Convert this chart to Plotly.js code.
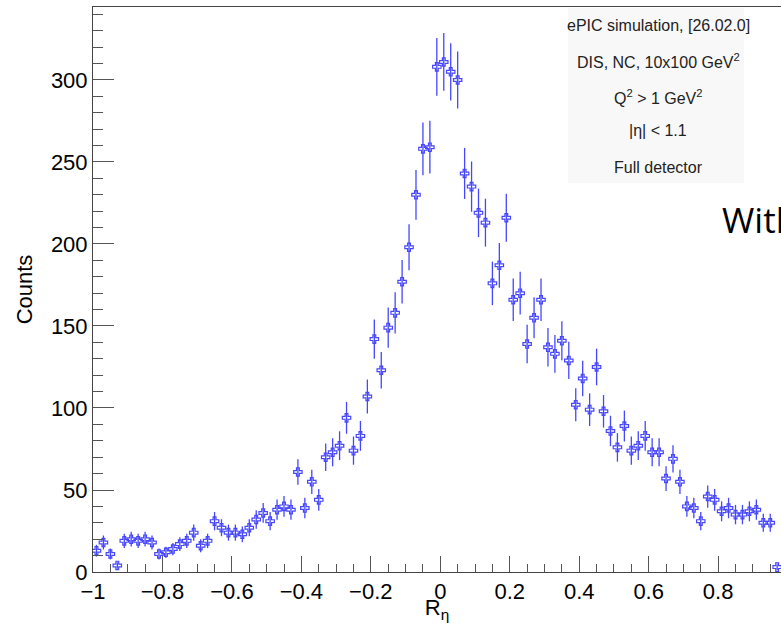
<!DOCTYPE html>
<html>
<head>
<meta charset="utf-8">
<script src="https://cdn.plot.ly/plotly-3.0.1.min.js"></script>
<style>
  html, body { margin: 0; padding: 0; background: #ffffff; }
  #chart { width: 781px; height: 623px; }
</style>
</head>
<body>
<div id="chart"></div>
<script>
// Histogram definition: R_eta, 100 bins from -1 to 1 (visible part up to ~0.98)
const binLow = -1;
const binWidth = 0.02;

// Counts per bin, bins centred at -0.99, -0.97, ..., 0.97
const counts = [
  13, 18, 11, 4, 19, 20, 19, 20, 18, 11,
  12, 14, 17, 19, 24, 16, 19, 31, 27, 24,
  24, 23, 27, 32, 36, 31, 38, 40, 38, 61,
  39, 55, 44, 70, 73, 77, 94, 74, 83, 107,
  142, 123, 149, 158, 177, 198, 230, 258, 259, 308,
  311, 305, 300, 243, 235, 219, 213, 176, 187, 216,
  166, 170, 139, 155, 166, 137, 133, 141, 129, 102,
  118, 99, 125, 98, 86, 76, 89, 74, 77, 83,
  73, 73, 57, 69, 55, 40, 39, 31, 46, 44,
  37, 39, 35, 35, 37, 38, 30, 30, 3
];

const infoLines = [
  "ePIC simulation, [26.02.0]",
  "DIS, NC, 10x100 GeV<sup>2</sup>",
  "Q<sup>2</sup> > 1 GeV<sup>2</sup>",
  "|η| < 1.1",
  "Full detector"
];
const sideText = "With";
const xTitle = "R<sub>η</sub>";
const yTitle = "Counts";

// bin centres and Poisson errors
const centers = counts.map((_, i) => binLow + binWidth * (i + 0.5));
const errors = counts.map(c => Math.sqrt(c));

// layout geometry (pixels)
const W = 781, H = 623;
const mL = 93, mR = 0, mT = 7, mB = 51;
const plotW = W - mL - mR, plotH = H - mT - mB;
const px = x => (x - mL) / plotW;          // pixel x -> paper x
const py = y => (H - mB - y) / plotH;      // pixel y -> paper y

const blue = "rgb(70,70,255)";
const font = "Liberation Sans, Arial, Helvetica, sans-serif";

const trace = {
  type: "scatter",
  mode: "markers",
  x: centers,
  y: counts,
  marker: { symbol: "cross-open", size: 7, color: blue, line: { color: blue, width: 1.2 } },
  error_y: { type: "data", array: errors, visible: true, color: blue, thickness: 1.3, width: 0 },
  showlegend: false,
  hoverinfo: "x+y"
};

const infoY = [25, 61, 97, 130, 167];
const annotations = infoLines.map((t, i) => ({
  xref: "paper", yref: "paper",
  x: px(658), y: py(infoY[i]),
  xanchor: "center", yanchor: "middle",
  text: t, showarrow: false,
  font: { family: font, size: 16, color: "#222" }
}));
annotations.push({
  xref: "paper", yref: "paper",
  x: px(720), y: py(219),
  xanchor: "left", yanchor: "middle",
  text: sideText, showarrow: false,
  font: { family: "Open Sans, Noto Sans, sans-serif", size: 35, color: "#000" }
});

const layout = {
  width: W, height: H,
  margin: { l: mL, r: mR, t: mT, b: mB, pad: 0 },
  paper_bgcolor: "#ffffff",
  plot_bgcolor: "rgba(0,0,0,0)",
  font: { family: font, size: 22, color: "#000" },
  xaxis: {
    range: [-1, -1 + plotW / 347.3],
    tick0: -1, dtick: 0.2,
    ticks: "inside", ticklen: 16, tickwidth: 1, tickcolor: "#555",
    minor: { dtick: 0.05, ticks: "inside", ticklen: 8, tickcolor: "#555", tickwidth: 1, showgrid: false },
    showline: true, linecolor: "#444", linewidth: 1, mirror: true,
    showgrid: false, zeroline: false,
    tickfont: { family: font, size: 22, color: "#000" },
    ticklabelstandoff: 0,
    title: { text: xTitle, font: { family: font, size: 22, color: "#000" }, standoff: 7 }
  },
  yaxis: {
    range: [0, 344.5],
    tick0: 0, dtick: 50,
    ticks: "inside", ticklen: 21, tickwidth: 1, tickcolor: "#555",
    minor: { dtick: 10, ticks: "inside", ticklen: 10, tickcolor: "#555", tickwidth: 1, showgrid: false },
    showline: true, linecolor: "#444", linewidth: 1, mirror: false,
    showgrid: false, zeroline: false,
    tickfont: { family: font, size: 22, color: "#000" },
    ticklabelstandoff: 0,
    title: { text: yTitle, font: { family: font, size: 22, color: "#000" }, standoff: 12 }
  },
  shapes: [{
    type: "rect", xref: "paper", yref: "paper",
    x0: px(568), x1: px(744), y0: py(183), y1: py(8),
    fillcolor: "#f8f8f8", line: { width: 0 }, layer: "below"
  }],
  annotations: annotations
};

Plotly.newPlot("chart", [trace], layout, { displayModeBar: false, staticPlot: true });
</script>
</body>
</html>
